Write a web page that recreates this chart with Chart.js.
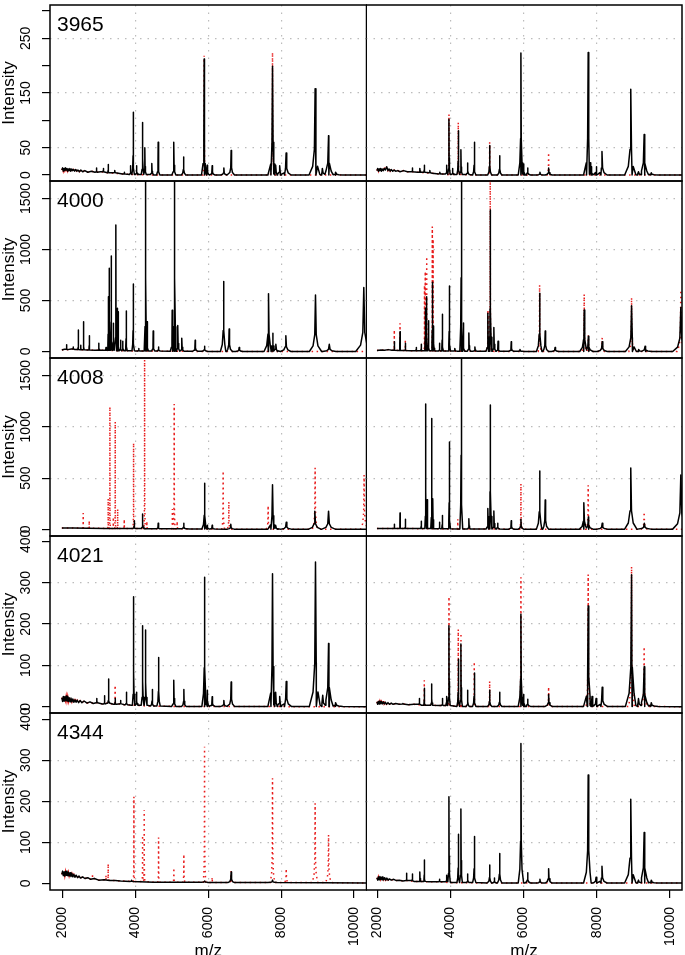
<!DOCTYPE html>
<html>
<head>
<meta charset="utf-8">
<style>
  html, body { margin: 0; padding: 0; background: #fff; overflow: hidden; }
  #fig { position: relative; width: 685px; height: 955px; background: #fff; }
  #fig canvas { position: absolute; }
</style>
</head>
<body>
<div id="fig"></div>
<script src="https://cdn.jsdelivr.net/npm/chart.js"></script>
<script>
const FONT = "'Liberation Sans', Arial, sans-serif";
Chart.defaults.font.family = FONT;
Chart.defaults.color = '#000';

// ---- axes ----
const mzTicks = [2000, 4000, 6000, 8000, 10000];
const mzGrid = [4000, 6000, 8000];
const sampleNames = ['3965', '4000', '4008', '4021', '4344'];

const yTicksA = [0, 50, 100, 150, 200, 250, 300];
const yLabelsA = [0, 50, 150, 250];
const yGridA = [50, 150, 250];
const yTicksB = [0, 500, 1000, 1500];
const yLabelsB = [0, 500, 1000, 1500];
const yGridB = [500, 1000, 1500];
const yTicksC = [0, 100, 200, 300, 400];
const yLabelsC = [0, 100, 200, 300, 400];
const yGridC = [100, 200, 300];

// ---- spectra: [m/z, intensity] ----
// 3965
const baseL3965 = [[1990,9],[2010,13],[2030,7],[2050,12],[2070,8],[2090,13],[2110,9],[2130,12],[2150,7],[2170,11],[2190,8],[2210,12],[2235,7],[2260,11],[2285,8],[2310,10],[2340,7],[2370,10],[2400,7],[2430,9],[2470,6],[2510,9],[2560,6],[2620,8],[2700,5],[2800,7],[2900,5],[3050,6],[3250,4],[3450,3],[3650,2],[3850,1],[4500,0],[10340,0]];
const blackL3965 = [[2940,13],[3124,12],[3260,19],[3440,8],[3700,5],[3874,17],[3945,115],[4040,17],[4203,96],[4266,50],[4458,21],[4630,60],[5060,60],[5326,33],[5890,212],[5975,18],[6110,17],[6430,13],[6630,45],[7764,199],[7850,18],[7960,17],[8137,40],[8932,158],[9130,12],[9300,72],[9500,5]];
const redL3965 = [[5890,218],[7764,224]];
const baseR3965 = [[1990,8],[2010,12],[2030,7],[2050,11],[2070,8],[2090,12],[2110,7],[2130,11],[2160,8],[2190,12],[2220,9],[2256,15],[2290,8],[2320,11],[2350,7],[2380,10],[2420,7],[2460,9],[2500,7],[2560,8],[2620,6],[2720,8],[2820,6],[2950,6],[3100,5],[3300,4],[3500,3],[3700,2],[3900,1],[4500,0],[10330,0]];
const blackR3965 = [[2956,13],[3165,12],[3284,18],[3437,8],[3710,5],[3896,18],[3959,102],[4060,12],[4213,81],[4287,46],[4470,22],[4650,60],[5071,54],[5344,35],[5926,223],[6000,20],[6109,13],[6446,5],[6683,13],[7765,224],[7850,15],[7980,15],[8142,43],[8929,157],[9140,6],[9295,74],[9490,4]];
const redR3965 = [[3959,111],[4213,96],[5071,60],[6683,41]];

// 4000
const baseL4000 = [[1990,15],[2060,22],[2150,18],[2250,25],[2350,20],[2500,18],[2700,15],[2900,12],[3100,12],[3500,8],[4000,5],[5000,2],[6000,0],[10340,0]];
const blackL4000 = [[2120,67],[2300,45],[2440,211],[2510,60],[2586,292],[2740,153],[3005,80],[3200,40],[3260,537],[3288,815],[3342,936],[3400,276],[3471,1240],[3507,423],[3535,390],[3600,110],[3660,100],[3753,397],[3945,662],[4100,30],[4285,2400],[4325,292],[4493,200],[4640,45],[5014,405],[5079,2400],[5170,254],[5280,130],[5644,110],[5900,50],[6422,685],[6575,220],[6850,40],[7654,567],[7773,179],[7855,70],[8129,155],[8942,553],[9320,70],[10266,626]];
const redL4000 = [];
const baseR4000 = [[1990,10],[2100,15],[2200,12],[2300,18],[2400,12],[2600,10],[2900,8],[3200,6],[3600,5],[4200,3],[5000,1],[6000,0],[10330,0]];
const blackR4000 = [[2464,96],[2620,194],[2765,80],[3060,40],[3200,70],[3310,423],[3350,537],[3400,300],[3503,678],[3540,250],[3700,80],[3776,365],[3967,642],[4120,30],[4295,2400],[4350,280],[4505,180],[4670,45],[5024,374],[5087,1387],[5189,234],[5300,100],[5661,96],[5900,20],[6437,570],[6590,200],[6860,40],[7656,407],[7770,150],[8148,96],[8951,449],[9150,20],[9320,50],[10298,430]];
const redR4000 = [[2464,211],[2620,276],[2765,120],[3290,650],[3310,783],[3350,930],[3503,1224],[3525,1100],[5024,407],[5087,1800],[6437,652],[7656,561],[7770,160],[8148,135],[8951,527],[10298,603]];

// 4008
const baseL4008 = [[1990,14],[2300,13],[2700,12],[3200,10],[3800,8],[4500,6],[5500,4],[6500,3],[10340,2]];
const blackL4008 = [[3973,85],[4203,150],[4630,60],[5330,60],[5901,451],[5980,40],[6110,40],[6620,50],[7764,436],[7850,40],[8140,70],[8923,178],[9300,178]];
const redL4008 = [[2575,159],[2740,85],[3260,300],[3307,1196],[3400,120],[3453,1049],[3520,200],[3700,100],[3956,843],[4258,1654],[4320,80],[5020,200],[5069,1222],[5150,80],[6411,569],[6567,269],[7644,232],[8932,600],[10274,530]];
const baseR4008 = [[1990,10],[2500,10],[3000,8],[3500,6],[4200,4],[5500,3],[10330,2]];
const blackR4008 = [[2464,50],[2620,160],[2765,100],[3200,80],[3322,1222],[3360,290],[3486,1082],[3520,300],[3700,70],[3776,137],[3967,852],[4295,2400],[4505,105],[5024,205],[5087,1213],[5189,180],[5290,60],[5661,85],[5926,100],[6437,569],[6590,288],[7648,259],[7770,120],[8148,60],[8929,600],[9300,60],[10298,530]];
const redR4008 = [[4200,100],[5926,445],[7765,431],[9295,170]];

// 4021
const baseL4021 = [[1990,22],[2010,13],[2030,25],[2050,14],[2070,24],[2090,15],[2110,26],[2130,14],[2150,25],[2170,13],[2190,22],[2215,12],[2240,21],[2265,12],[2290,19],[2320,11],[2350,17],[2380,11],[2410,16],[2450,10],[2490,15],[2540,10],[2600,14],[2680,9],[2760,12],[2850,8],[2950,10],[3100,7],[3250,9],[3400,6],[3550,7],[3700,5],[3900,4],[4300,2],[5000,1],[10340,0]];
const blackL4021 = [[2950,20],[3160,27],[3271,67],[3450,20],[3600,15],[3760,35],[3956,266],[4040,35],[4203,196],[4285,186],[4466,42],[4641,119],[5060,64],[5334,42],[5901,313],[5975,40],[6110,24],[6430,15],[6630,60],[7764,322],[7850,35],[7960,25],[8140,61],[8942,350],[9140,28],[9300,153],[9500,10]];
const redL4021 = [[3450,52]];
const baseR4021 = [[1990,12],[2010,6],[2030,13],[2050,7],[2070,14],[2090,8],[2110,13],[2135,7],[2160,12],[2190,7],[2220,11],[2250,6],[2290,10],[2330,6],[2380,9],[2430,6],[2500,8],[2600,6],[2700,7],[2850,5],[3000,6],[3200,4],[3400,4],[3700,3],[4200,1],[10330,0]];
const blackR4021 = [[2700,8],[3150,20],[3284,45],[3486,55],[3780,20],[3890,25],[3959,196],[4213,115],[4287,152],[4470,40],[4650,82],[5071,40],[5344,35],[5926,224],[6000,30],[6109,18],[6683,30],[7765,244],[7870,25],[7980,20],[8148,47],[8951,319],[9140,20],[9295,97],[9490,10]];
const redR4021 = [[2040,18],[2180,16],[3284,64],[3959,266],[4213,187],[4287,178],[4650,109],[5071,62],[5926,313],[6683,48],[7765,320],[8951,339],[9295,145]];

// 4344
const baseL4344 = [[1990,22],[2010,30],[2030,19],[2050,28],[2070,18],[2090,29],[2110,20],[2130,30],[2150,19],[2170,27],[2190,18],[2215,26],[2240,17],[2265,24],[2290,16],[2320,22],[2350,15],[2380,20],[2420,14],[2460,18],[2500,13],[2560,16],[2620,12],[2700,14],[2780,10],[2880,12],[3000,8],[3150,9],[3300,7],[3450,7],[3600,6],[3900,5],[4500,3],[6000,2],[10340,1]];
const blackL4344 = [[3900,8],[5900,6],[6630,28],[7764,8]];
const redL4344 = [[2830,24],[3200,20],[3260,48],[3965,211],[4203,117],[4247,179],[4641,112],[5060,38],[5334,71],[5901,333],[6110,15],[6630,30],[7764,256],[8140,36],[8932,195],[9300,118]];
const baseR4344 = [[1990,14],[2010,8],[2030,16],[2050,9],[2070,17],[2090,10],[2110,15],[2130,9],[2150,16],[2175,9],[2200,14],[2230,8],[2260,13],[2295,8],[2330,11],[2380,8],[2450,10],[2520,7],[2600,8],[2700,6],[2800,7],[3000,5],[3200,5],[3400,4],[3700,4],[4000,2],[5000,1],[10330,1]];
const blackR4344 = [[2800,25],[2956,23],[3165,28],[3284,57],[3700,10],[3896,20],[3959,211],[4213,120],[4287,181],[4470,23],[4650,114],[5071,45],[5200,13],[5344,73],[5926,341],[6109,26],[6446,10],[6683,36],[7765,264],[7980,15],[8142,42],[8929,205],[9140,8],[9295,124],[9490,8]];
const redR4344 = [];

// ---- page layout (pixels) ----
const rowTop = [5, 181, 358, 536, 713];
const rowBottom = [181, 358, 536, 713, 890];
const colLeft = [0, 366];
const colWidth = [367, 319];
const colPadRight = [0.5, 3];
const xRange = [[1665, 10340], [1690, 10330]];
const yRange = [[-11, 311], [-64, 1671], [-64, 1671], [-15, 413], [-16, 415]];
const yTicksRow = [yTicksA, yTicksB, yTicksB, yTicksC, yTicksC];
const yLabelsRow = [yLabelsA, yLabelsB, yLabelsB, yLabelsC, yLabelsC];
const yGridRow = [yGridA, yGridB, yGridB, yGridC, yGridC];
const GRID = '#bcbcbc';
const NONE = 'rgba(0,0,0,0)';

// peak list -> line points (peak width grows with m/z)
function buildSpectrum(base, peaks, widthScale) {
  const k = 2.1e-6 * widthScale;
  const spans = peaks.map(([mz]) => [mz, k * mz * mz]);
  const pts = base
    .filter(([x]) => !spans.some(([m, w]) => Math.abs(x - m) < w))
    .map(([x, y]) => ({x, y}));
  const footAt = mz => {
    let f = base.length ? base[0][1] : 0;
    for (const [bx, by] of base) if (bx <= mz) f = by;
    return f;
  };
  for (const [mz, h] of peaks) {
    const f = footAt(mz);
    const w = k * mz * mz;
    const d = h - f;
    pts.push({x: mz - w, y: f}, {x: mz - 0.4 * w, y: f + 0.1 * d}, {x: mz - 0.12 * w, y: f + 0.3 * d},
             {x: mz, y: h},
             {x: mz + 0.12 * w, y: f + 0.3 * d}, {x: mz + 0.4 * w, y: f + 0.1 * d}, {x: mz + w, y: f});
  }
  return pts.sort((a, b) => a.x - b.x);
}

const mctx = document.createElement('canvas').getContext('2d');
mctx.font = '14px ' + FONT;

const panelBox = {
  id: 'panelBox',
  afterDraw(chart, args, opts) {
    const {ctx, chartArea: a} = chart;
    ctx.save();
    ctx.strokeStyle = '#000';
    ctx.lineWidth = 1.5;
    ctx.strokeRect(a.left, a.top, a.right - a.left, a.bottom - a.top);
    if (opts.label) {
      ctx.font = '21px ' + FONT;
      ctx.fillStyle = '#000';
      ctx.textBaseline = 'alphabetic';
      ctx.textAlign = 'left';
      ctx.fillText(opts.label, a.left + 7, a.top + 25.7);
    }
    ctx.restore();
  }
};

function yScaleFor(row, col) {
  const ticks = yTicksRow[row], labels = yLabelsRow[row], grid = yGridRow[row];
  const show = col === 0;
  const widest = Math.max(...ticks.map(v => labels.includes(v) ? mctx.measureText(String(v)).width : 0));
  return {
    type: 'linear', min: yRange[row][0], max: yRange[row][1],
    afterBuildTicks: s => { s.ticks = ticks.map(v => ({value: v})); },
    afterFit: s => { s.width = show ? 50 : 0; s.paddingTop = 0; s.paddingBottom = 0; },
    ticks: {
      display: show, autoSkip: false, minRotation: 90, maxRotation: 90, crossAlign: 'center',
      padding: 16 - widest / 2, font: {size: 14}, color: '#000',
      callback: v => labels.includes(v) ? String(v) : ''
    },
    grid: {
      drawTicks: show, tickLength: 8, tickWidth: 1.2, tickColor: '#000', lineWidth: 1.2,
      color: c => (c.tick && grid.includes(c.tick.value)) ? GRID : NONE
    },
    border: { display: false, dash: [1.5, 6] },
    title: { display: show, text: 'Intensity', color: '#000', font: {size: 17, lineHeight: 1.1}, padding: {top: 0, bottom: 0} }
  };
}

function xScaleFor(row, col) {
  const last = row === 4;
  return {
    type: 'linear', min: xRange[col][0], max: xRange[col][1],
    afterBuildTicks: s => { s.ticks = mzTicks.map(v => ({value: v})); },
    afterFit: s => { s.height = last ? 75 : 0; s.paddingLeft = 0; s.paddingRight = 0; },
    ticks: {
      display: last, autoSkip: false, minRotation: 90, maxRotation: 90, padding: 9,
      font: {size: 14}, color: '#000', callback: v => String(v)
    },
    grid: {
      drawTicks: last, tickLength: 8, tickWidth: 1.2, tickColor: '#000', lineWidth: 1.2,
      color: c => (c.tick && mzGrid.includes(c.tick.value)) ? GRID : NONE
    },
    border: { display: false, dash: [1.5, 6] },
    title: { display: last, text: 'm/z', color: '#000', font: {size: 17, lineHeight: 1.1}, padding: {top: 0, bottom: 4.6} }
  };
}

const fig = document.getElementById('fig');

function makePanel(row, col, base, black, red) {
  const last = row === 4;
  const top = rowTop[row] - 14;
  const h = (last ? 965 : rowBottom[row] + 14) - top;
  const cv = document.createElement('canvas');
  cv.width = colWidth[col];
  cv.height = h;
  cv.style.left = colLeft[col] + 'px';
  cv.style.top = top + 'px';
  fig.appendChild(cv);

  new Chart(cv, {
    type: 'line',
    data: {
      datasets: [
        { data: buildSpectrum(base, black, 1), borderColor: '#000', borderWidth: 1.5,
          pointRadius: 0, tension: 0, borderJoinStyle: 'round' },
        { data: buildSpectrum(base, red, 0.45), borderColor: 'rgb(232,28,28)', borderWidth: 1.5,
          borderDash: [1.5, 3.5], pointRadius: 0, tension: 0 }
      ]
    },
    options: {
      responsive: false, animation: false, devicePixelRatio: 1,
      layout: { padding: { top: 14, bottom: last ? 0 : 14, left: 0, right: colPadRight[col] } },
      plugins: {
        legend: { display: false },
        tooltip: { enabled: false },
        panelBox: { label: col === 0 ? sampleNames[row] : '' }
      },
      scales: { x: xScaleFor(row, col), y: yScaleFor(row, col) }
    },
    plugins: [panelBox]
  });
}

const panels = [
  [0, 0, baseL3965, blackL3965, redL3965], [0, 1, baseR3965, blackR3965, redR3965],
  [1, 0, baseL4000, blackL4000, redL4000], [1, 1, baseR4000, blackR4000, redR4000],
  [2, 0, baseL4008, blackL4008, redL4008], [2, 1, baseR4008, blackR4008, redR4008],
  [3, 0, baseL4021, blackL4021, redL4021], [3, 1, baseR4021, blackR4021, redR4021],
  [4, 0, baseL4344, blackL4344, redL4344], [4, 1, baseR4344, blackR4344, redR4344]
];
panels.forEach(p => makePanel(...p));
</script>
</body>
</html>
